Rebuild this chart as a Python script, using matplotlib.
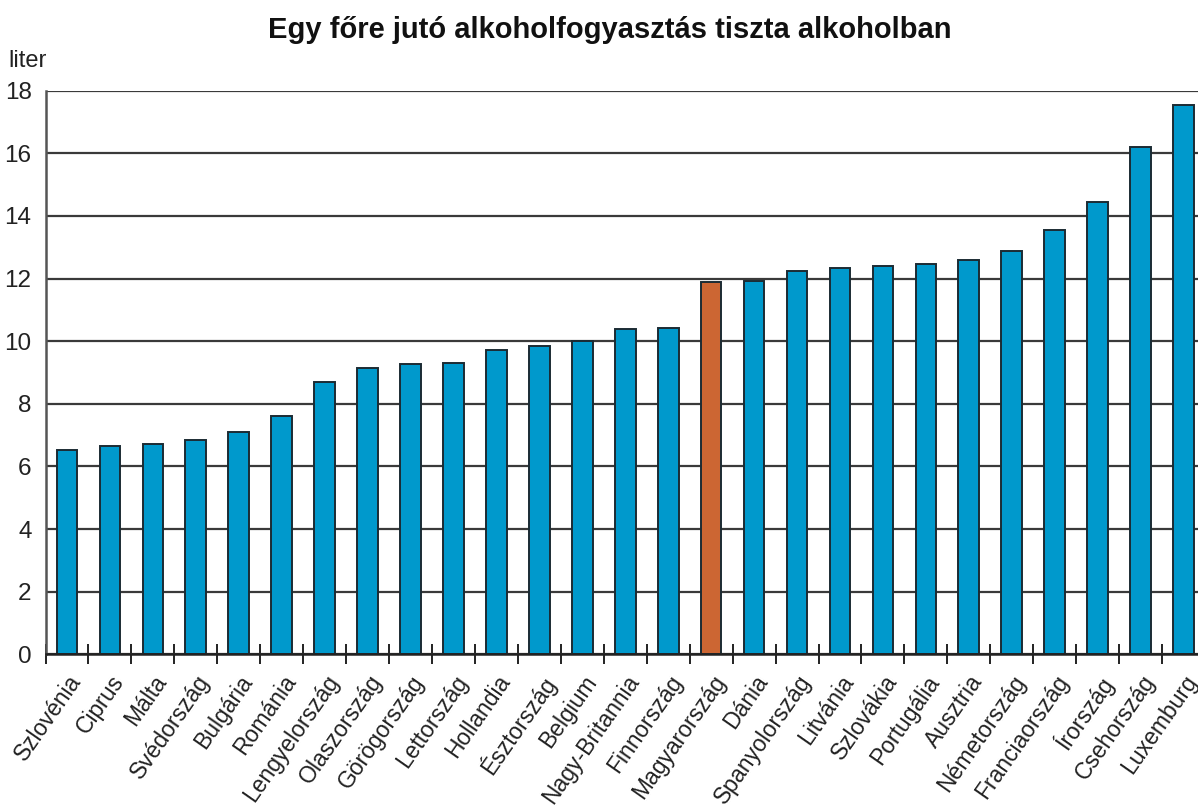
import matplotlib
matplotlib.use("Agg")
import matplotlib.pyplot as plt
from matplotlib.ticker import NullFormatter

countries = ["Szlovénia", "Ciprus", "Málta", "Svédország", "Bulgária", "Románia",
             "Lengyelország", "Olaszország", "Görögország", "Lettország", "Hollandia",
             "Észtország", "Belgium", "Nagy-Britannia", "Finnország", "Magyarország",
             "Dánia", "Spanyolország", "Litvánia", "Szlovákia", "Portugália", "Ausztria",
             "Németország", "Franciaország", "Írország", "Csehország", "Luxemburg"]
values = [6.52, 6.65, 6.72, 6.84, 7.11, 7.60, 8.69, 9.13, 9.28, 9.30, 9.72,
          9.85, 10.02, 10.38, 10.42, 11.90, 11.92, 12.24, 12.33, 12.41, 12.47, 12.58,
          12.89, 13.54, 14.44, 16.20, 17.53]
highlight = "Magyarország"
y_ticks = [0, 2, 4, 6, 8, 10, 12, 14, 16, 18]
title = "Egy főre jutó alkoholfogyasztás tiszta alkoholban"
unit = "liter"

BLUE = "#0099CC"
ORANGE = "#CC6633"
FONT = ["Liberation Sans", "DejaVu Sans"]
plt.rcParams["font.family"] = FONT

fig = plt.figure(figsize=(11.98, 8.08), dpi=100)
ax = fig.add_axes([45.5 / 1198, (808 - 654.3) / 808, (1205 - 45.5) / 1198, (654.3 - 90.7) / 808])

x = list(range(len(countries)))
colors = [ORANGE if c == highlight else BLUE for c in countries]
ax.bar(x, values, width=0.48, color=colors, edgecolor="#1b2b33", linewidth=1.4, zorder=3)

ax.set_xlim(-0.5, len(countries) - 0.5)
ax.set_ylim(0, 18)
ax.set_yticks(y_ticks)
ax.set_yticklabels([str(v) for v in y_ticks], fontsize=17.5, color="#222222")
ax.tick_params(axis="y", length=0, pad=10)
ax.yaxis.grid(True, color="#3a3a3a", linewidth=1.6, zorder=1)
ax.set_axisbelow(True)

# ticks at category boundaries (major), labels at bar centres (minor)
ax.set_xticks([i + 0.5 for i in range(-1, len(countries) - 1)])
ax.xaxis.set_major_formatter(NullFormatter())
ax.tick_params(axis="x", which="major", direction="inout", length=14, width=1.4, color="#222222")
ax.set_xticks(x, minor=True)
ax.set_xticklabels(countries, minor=True, rotation=55, ha="right", va="top",
                   rotation_mode="anchor", fontsize=16.5, color="#222222")
ax.tick_params(axis="x", which="minor", length=0, pad=12)

for s in ["top", "right"]:
    ax.spines[s].set_visible(False)
ax.spines["left"].set_color("#555555")
ax.spines["left"].set_linewidth(1.8)
ax.spines["bottom"].set_color("#222222")
ax.spines["bottom"].set_linewidth(1.8)
ax.spines["bottom"].set_zorder(4)

fig.text(610 / 1198, 1 - 30 / 808, title, ha="center", va="center",
         fontsize=21, fontweight="bold", color="#111111")
fig.text(8 / 1198, 1 - 61 / 808, unit, ha="left", va="center", fontsize=17, color="#222222")

fig.savefig("out.png", dpi=100)
